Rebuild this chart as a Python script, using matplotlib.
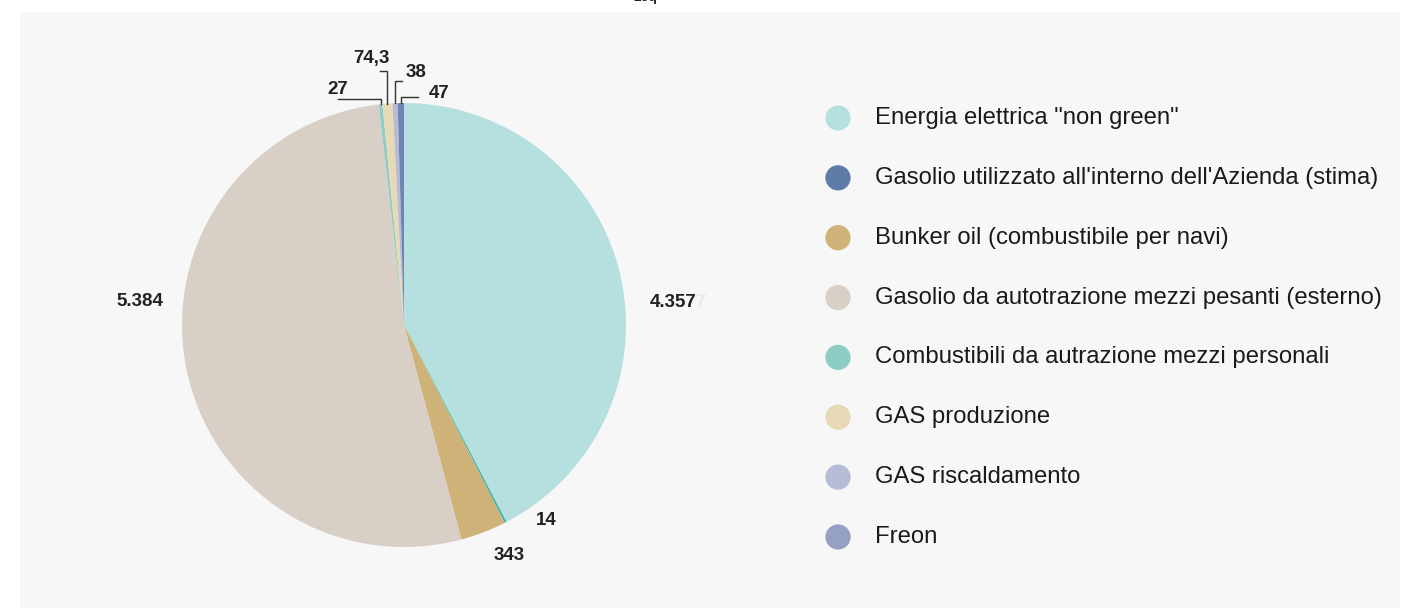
import matplotlib
matplotlib.use("Agg")
import matplotlib.pyplot as plt
from matplotlib.patches import Rectangle
import numpy as np

categories = [
    'Energia elettrica "non green"',
    "Gasolio utilizzato all'interno dell'Azienda (stima)",
    "Bunker oil (combustibile per navi)",
    "Gasolio da autotrazione mezzi pesanti (esterno)",
    "Combustibili da autrazione mezzi personali",
    "GAS produzione",
    "GAS riscaldamento",
    "Freon",
]
values = [4357, 14, 343, 5384, 27, 74.3, 38, 47]
legend_colors = ["#b6dfe0", "#5f7ba8", "#cfb277", "#d8cfc7",
                 "#8dcdc6", "#e7d8b6", "#b6bbd6", "#94a1c3"]
slice_colors = ["#b6dfe0", "#2cb5ae", "#cfb277", "#d8cfc7",
                "#8dcdc6", "#e7d8b6", "#b6bbd6", "#6f84b3"]

W, H = 1402, 608
R = 222.0  # pie radius in pixels
plt.rcParams["font.family"] = ["Liberation Sans", "DejaVu Sans"]


def fmt_it(v):
    s = f"{v:,.0f}" if float(v).is_integer() else f"{v:,.1f}"
    return s.replace(",", "X").replace(".", ",").replace("X", ".")


fig = plt.figure(figsize=(W / 100, H / 100), dpi=100)
fig.patch.set_facecolor("white")
fig.add_artist(Rectangle((20 / W, 0), (W - 22) / W, (H - 12) / H,
                         transform=fig.transFigure, facecolor="#f7f7f7",
                         edgecolor="none", zorder=0))
fig.text(645 / W, 1 - 1 / H, "2eq", ha="center", va="baseline",
         fontsize=10, fontweight="bold", color="#222222")

# legend drawn in pixel space
lg = fig.add_axes([0, 0, 1, 1])
lg.set_xlim(0, W)
lg.set_ylim(H, 0)
lg.axis("off")
for i, (name, col) in enumerate(zip(categories, legend_colors)):
    y = 118 + 59.85 * i
    lg.scatter(838, y, s=330, color=col, edgecolors="none")
    lg.text(875, y, name, ha="left", va="center", fontsize=17.2, color="#1a1a1a")

# pie
ax = fig.add_axes([(404 - R) / W, (H - 325 - R) / H, 2 * R / W, 2 * R / H])
wedges, _ = ax.pie(values, colors=slice_colors, startangle=90, counterclock=False,
                   radius=1, wedgeprops=dict(linewidth=0))
ax.set_xlim(-1, 1)
ax.set_ylim(-1, 1)
ax.axis("off")

lbl = dict(fontsize=13.5, fontweight="bold", color="#222222",
           textcoords="offset pixels", annotation_clip=False)

# (dx, dy) in pixels from the wedge edge, alignment
plain = {0: (30, -30, "left"), 1: (30, 2, "left"), 2: (10, -23, "left"),
         3: (-23, 65, "right")}
# (riser, run, text dx, text dy) in pixels, for labels with connector lines
leader = {4: (5, -43, 0, 10), 5: (33, -7, -9, 12), 6: (22, 7, 14, 9),
          7: (6, 17, 21, 4)}

for i, w in enumerate(wedges):
    mid = np.deg2rad((w.theta1 + w.theta2) / 2)
    ex, ey = np.cos(mid), np.sin(mid)
    text = fmt_it(values[i])
    if i in plain:
        dx, dy, ha = plain[i]
        if i == 0:
            # faint trailing digit left over from the previous label render
            ax.annotate(text + text[-1], (ex, ey), xytext=(dx, dy), ha=ha,
                        va="center", **{**lbl, "color": "#e9e9e9"})
        ax.annotate(text, (ex, ey), xytext=(dx, dy), ha=ha, va="center", **lbl)
    else:
        rise, run, tdx, tdy = leader[i]
        ky = ey + rise / R
        kx = ex + run / R
        ax.plot([ex, ex, kx], [ey, ky, ky], color="#333333", lw=1.0,
                clip_on=False, solid_joinstyle="miter")
        ax.annotate(text, (kx, ky), xytext=(tdx, tdy), ha="center",
                    va="center", **lbl)

fig.savefig("out.png", dpi=100, facecolor="white")
